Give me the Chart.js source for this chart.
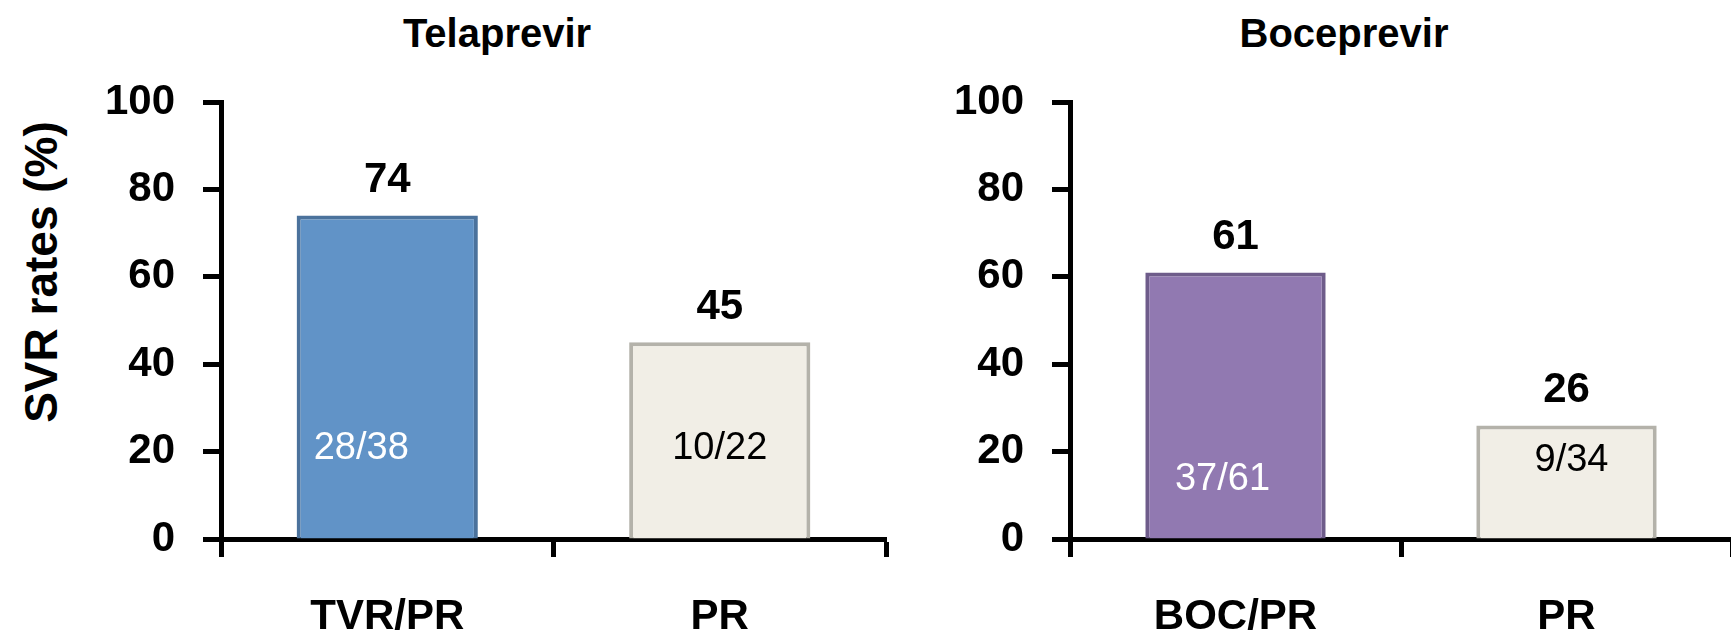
<!DOCTYPE html>
<html>
<head>
<meta charset="utf-8">
<script src="https://cdn.jsdelivr.net/npm/chart.js@4.4.0/dist/chart.umd.min.js"></script>
<style>
  html, body { margin: 0; padding: 0; background: #fff; overflow: hidden; }
  #wrap { position: relative; width: 1731px; height: 637px; overflow: hidden; font-family: 'Liberation Sans', Arial, sans-serif; color: #000; }
  canvas { position: absolute; top: 0; }
  .ttl { position: absolute; top: 13px; font-weight: bold; font-size: 40px; line-height: 40px; transform: translateX(-50%); white-space: nowrap; }
  #ylab { position: absolute; left: 41px; top: 272px; font-weight: bold; font-size: 46px; line-height: 46px; white-space: nowrap; transform: translate(-50%, -50%) rotate(-90deg); }
</style>
</head>
<body>
<div id="wrap">
  <div class="ttl" style="left:497px">Telaprevir</div>
  <div class="ttl" style="left:1344px">Boceprevir</div>
  <div id="ylab">SVR rates (%)</div>
  <canvas id="telaChart" width="900" height="637" style="left:0"></canvas>
  <canvas id="boceChart" width="840" height="637" style="left:900px"></canvas>
</div>
<script>
const telaCategories = ['TVR/PR', 'PR']
const telaValues = [74, 45]
const telaCounts = ['28/38', '10/22']

const boceCategories = ['BOC/PR', 'PR']
const boceValues = [61, 26]
const boceCounts = ['37/61', '9/34']

const yTicks = [0, 20, 40, 60, 80, 100]

const FONT = '"Liberation Sans", Arial, sans-serif'

// draws the value above each bar and the n/N count inside it
const barText = {
    id: 'barText',
    afterDatasetsDraw(chart, args, opts) {
        const ctx = chart.ctx
        const yScale = chart.scales.y
        const values = chart.data.datasets[0].data
        ctx.save()
        ctx.textAlign = 'center'
        ctx.textBaseline = 'middle'
        chart.getDatasetMeta(0).data.forEach((bar, i) => {
            ctx.font = 'bold 42px ' + FONT
            ctx.fillStyle = '#000'
            ctx.fillText(values[i], bar.x, bar.y - 35)
            ctx.font = '38px ' + FONT
            ctx.fillStyle = opts.colors[i]
            ctx.fillText(opts.counts[i], bar.x + opts.shiftX[i], yScale.getPixelForValue(opts.at[i]))
        })
        ctx.restore()
    }
}

function makeChart(id, categories, values, counts, look) {
    return new Chart(document.getElementById(id), {
        type: 'bar',
        data: {
            labels: categories,
            datasets: [{
                data: values,
                backgroundColor: look.fill,
                borderColor: look.border,
                borderWidth: 4,
                barPercentage: 0.545,
                categoryPercentage: 1
            }]
        },
        options: {
            responsive: false,
            animation: false,
            layout: { padding: { top: 102, right: look.padRight, left: 0, bottom: 0 } },
            scales: {
                x: {
                    offset: true,
                    border: { display: true, color: '#000', width: 5 },
                    grid: { offset: true, drawOnChartArea: false, tickLength: 18, tickWidth: 5, tickColor: '#000' },
                    ticks: { color: '#000', font: { family: FONT, size: 42, weight: 'bold' }, padding: 35, maxRotation: 0, autoSkip: false },
                    afterFit: s => { s.height = 98 }
                },
                y: {
                    min: 0,
                    max: 100,
                    border: { display: true, color: '#000', width: 5 },
                    grid: { drawOnChartArea: false, tickLength: 18, tickWidth: 5, tickColor: '#000' },
                    ticks: { color: '#000', font: { family: FONT, size: 42, weight: 'bold' }, padding: 28 },
                    afterBuildTicks: s => { s.ticks = yTicks.map(v => ({ value: v })) },
                    afterFit: s => { s.width = look.axisWidth }
                }
            },
            plugins: {
                legend: { display: false },
                tooltip: { enabled: false },
                barText: { counts: counts, colors: look.countColors, at: look.countAt, shiftX: look.shiftX }
            }
        },
        plugins: [barText]
    })
}

makeChart('telaChart', telaCategories, telaValues, telaCounts, {
    fill: ['#6193c7', '#f1eee6'],
    border: ['#4b729c', '#b4b2aa'],
    countColors: ['#fff', '#000'],
    countAt: [20.6, 20.6],
    shiftX: [-26, 0],
    axisWidth: 221,
    padRight: 14
})

makeChart('boceChart', boceCategories, boceValues, boceCounts, {
    fill: ['#9179b1', '#f1eee6'],
    border: ['#6e5c8a', '#b4b2aa'],
    countColors: ['#fff', '#000'],
    countAt: [13.5, 18],
    shiftX: [-13, 5],
    axisWidth: 170,
    padRight: 8
})
</script>
</body>
</html>
